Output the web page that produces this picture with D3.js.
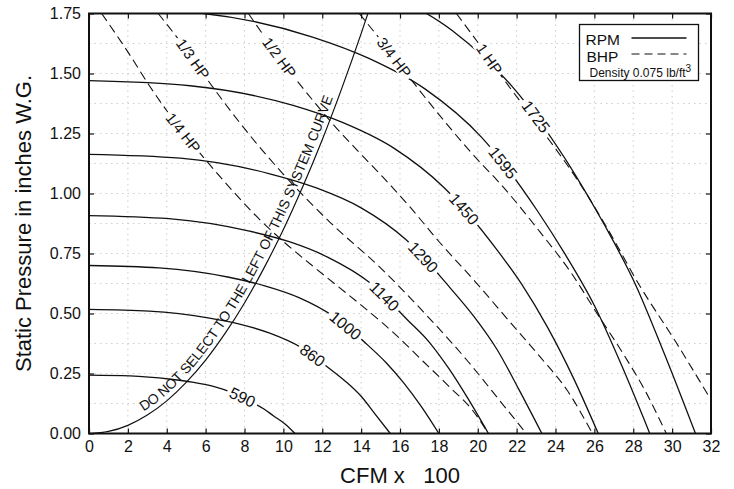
<!DOCTYPE html>
<html>
<head>
<meta charset="utf-8">
<script src="https://cdn.jsdelivr.net/npm/d3@7"></script>
<style>
  body { margin: 0; background: #fff; }
  svg { font-family: "Liberation Sans Narrow", "Arial Narrow", "Liberation Sans", Arial, sans-serif; }
  .axis text { font-size: 16px; fill: #111; }
  .axis line { stroke: #111; stroke-width: 1.2; }
  .axis .domain { display: none; }
</style>
</head>
<body>
<svg id="chart" width="734" height="489"></svg>
<script>
// fan curves: [CFM x 100, static pressure in. W.G.]
const rpm590  = [[0,0.243],[2.1,0.240],[4.2,0.226],[5.3,0.214],[6.4,0.196],[7.4,0.169],[8.5,0.126],[9.0,0.102],[9.5,0.073],[10.1,0.039],[10.6,0]];
const rpm860  = [[0,0.517],[3.1,0.510],[6.2,0.481],[7.8,0.455],[9.3,0.418],[10.9,0.359],[12.4,0.269],[13.2,0.217],[14.0,0.155],[14.7,0.083],[15.5,0]];
const rpm1000 = [[0,0.700],[3.6,0.690],[7.2,0.651],[9.0,0.616],[10.8,0.566],[12.6,0.487],[14.4,0.364],[15.3,0.294],[16.2,0.210],[17.1,0.112],[18.0,0]];
const rpm1140 = [[0,0.908],[4.1,0.895],[8.2,0.844],[10.3,0.799],[12.3,0.734],[14.4,0.631],[16.4,0.472],[17.5,0.381],[18.5,0.272],[19.5,0.145],[20.55,0]];
const rpm1290 = [[0,1.163],[4.7,1.147],[9.3,1.082],[11.7,1.023],[14.0,0.940],[16.3,0.808],[18.6,0.605],[19.8,0.488],[21.0,0.349],[22.1,0.186],[23.3,0]];
const rpm1450 = [[0,1.470],[5.2,1.449],[10.5,1.367],[13.1,1.294],[15.7,1.188],[18.3,1.022],[21.0,0.764],[22.3,0.617],[23.6,0.441],[24.9,0.235],[26.2,0]];
const rpm1595 = [[0,1.776],[5.8,1.751],[11.5,1.652],[14.4,1.563],[17.3,1.435],[20.2,1.234],[23.1,0.924],[24.5,0.746],[26.0,0.533],[27.4,0.284],[28.85,0]];
const rpm1725 = [[12.5,1.932],[15.6,1.828],[18.7,1.678],[21.8,1.443],[25.0,1.080],[26.5,0.872],[28.1,0.623],[29.6,0.332],[31.2,0]];

// brake horsepower lines
const bhp14 = [[0.65,1.75],[2.0,1.59],[3.1,1.45],[4.5,1.29],[6.0,1.14],[7.4,1.01],[8.8,0.89],[10.0,0.80],[11.4,0.705],[12.7,0.62],[14.3,0.515],[15.8,0.41],[17.2,0.30],[18.6,0.19],[19.7,0.10],[20.55,0]];
const bhp13 = [[3.56,1.75],[5.0,1.6],[6.4,1.44],[8.3,1.24],[10.0,1.08],[12.4,0.88],[15.0,0.69],[17.4,0.49],[19.5,0.30],[21.2,0.13],[22.5,0]];
const bhp12 = [[8.2,1.75],[9.5,1.60],[10.7,1.47],[11.7,1.37],[12.65,1.28],[13.8,1.18],[15.1,1.07],[16.5,0.945],[18.0,0.80],[19.9,0.63],[21.6,0.47],[23.2,0.32],[24.6,0.18],[25.9,0]];
const bhp34 = [[13.9,1.75],[15.0,1.64],[16.0,1.535],[17.0,1.43],[18.4,1.29],[20.0,1.14],[21.0,1.055],[23.2,0.84],[24.8,0.67],[26.1,0.505],[27.5,0.33],[28.6,0.18],[29.7,0]];
const bhp1  = [[18.9,1.75],[20.0,1.63],[21.3,1.48],[22.5,1.35],[23.7,1.22],[25.1,1.06],[26.7,0.85],[28.3,0.62],[30.2,0.38],[32.0,0.14]];

const systemCurve = [[0,0],[1,0.0085],[2,0.034],[3,0.077],[4,0.136],[5,0.213],[6,0.306],[7,0.417],[8,0.544],[9,0.689],[10,0.85],[11,1.029],[12,1.224],[13,1.437],[14,1.666],[14.5,1.787]];

const rpmLabels = ["590","860","1000","1140","1290","1450","1595","1725"];
const rpmLabelAt = [7.9, 11.5, 13.2, 15.2, 17.2, 19.3, 21.3, 23.0]; // CFM where label sits
const bhpLabels = ["1/4 HP","1/3 HP","1/2 HP","3/4 HP","1 HP"];
const bhpLabelAt = [4.85, 5.35, 9.8, 15.7, 20.6];

const xTicks = [0,2,4,6,8,10,12,14,16,18,20,22,24,26,28,30,32];
const yTicks = [0,0.25,0.5,0.75,1.0,1.25,1.5,1.75];
const gridX = [2,4,6,8,10,12,14,16,18,20,22,24,26,28,30];
const gridY = [0.125,0.25,0.375,0.5,0.625,0.75,0.875,1.0,1.125,1.25,1.375,1.5,1.625];

const rpmData = [rpm590, rpm860, rpm1000, rpm1140, rpm1290, rpm1450, rpm1595, rpm1725];
const bhpData = [bhp14, bhp13, bhp12, bhp34, bhp1];

const margin = {top: 13.5, right: 23, bottom: 55.5, left: 89};
const width = 734 - margin.left - margin.right;
const height = 489 - margin.top - margin.bottom;

const svg = d3.select("#chart");
const chart = svg.append("g")
    .attr("transform", `translate(${margin.left},${margin.top})`);

const xScale = d3.scaleLinear().domain([0, 32]).range([0, width]);
const yScale = d3.scaleLinear().domain([0, 1.75]).range([height, 0]);

chart.append("clipPath").attr("id", "plot-clip")
  .append("rect").attr("width", width).attr("height", height);

// faint dotted grid
const grid = chart.append("g").attr("stroke", "#9a9a9a").attr("stroke-width", 0.8)
    .attr("stroke-dasharray", "1.5,4").attr("opacity", 0.6);
grid.selectAll(".gx").data(gridX).join("line")
    .attr("x1", d => xScale(d)).attr("x2", d => xScale(d))
    .attr("y1", 0).attr("y2", height);
grid.selectAll(".gy").data(gridY).join("line")
    .attr("y1", d => yScale(d)).attr("y2", d => yScale(d))
    .attr("x1", 0).attr("x2", width);

const line = d3.line()
    .x(d => xScale(d[0]))
    .y(d => yScale(d[1]))
    .curve(d3.curveMonotoneX);

const curves = chart.append("g").attr("clip-path", "url(#plot-clip)").attr("fill", "none");

const rpmPaths = curves.selectAll(".rpm").data(rpmData).join("path")
    .attr("class", "rpm")
    .attr("d", line)
    .attr("stroke", "#111").attr("stroke-width", 1.3);

const bhpPaths = curves.selectAll(".bhp").data(bhpData).join("path")
    .attr("class", "bhp")
    .attr("d", line)
    .attr("stroke", "#111").attr("stroke-width", 1.1)
    .attr("stroke-dasharray", "9,5");

const sysPath = curves.append("path")
    .attr("id", "syscurve")
    .attr("d", line(systemCurve))
    .attr("stroke", "#111").attr("stroke-width", 1.2);

// find length along a path where it reaches a given x (paths run left to right)
function lengthAtX(node, px) {
  let lo = 0, hi = node.getTotalLength();
  for (let i = 0; i < 40; i++) {
    const mid = (lo + hi) / 2;
    if (node.getPointAtLength(mid).x < px) lo = mid; else hi = mid;
  }
  return lo;
}

function placeLabel(node, cfm, text, size) {
  const L = lengthAtX(node, xScale(cfm));
  const p = node.getPointAtLength(L);
  const a = node.getPointAtLength(Math.max(0, L - 2));
  const b = node.getPointAtLength(L + 2);
  const angle = Math.atan2(b.y - a.y, b.x - a.x) * 180 / Math.PI;
  const g = chart.append("g").attr("transform", `translate(${p.x},${p.y}) rotate(${angle})`);
  const bg = g.append("rect").attr("fill", "#fff");
  const t = g.append("text")
      .attr("text-anchor", "middle")
      .attr("dy", "0.36em")
      .attr("font-size", size)
      .attr("fill", "#111")
      .text(text);
  const bb = t.node().getBBox();
  bg.attr("x", bb.x - 3).attr("y", -7).attr("width", bb.width + 6).attr("height", 14);
}

rpmPaths.each(function(d, i) { placeLabel(this, rpmLabelAt[i], rpmLabels[i], 16); });
bhpPaths.each(function(d, i) { placeLabel(this, bhpLabelAt[i], bhpLabels[i], 15); });

// text along the system curve, sitting on its upper-left side
const sysNode = sysPath.node();
const textStart = lengthAtX(sysNode, xScale(2.95));
const textEnd = lengthAtX(sysNode, xScale(12.8));
chart.append("text")
    .attr("font-size", 14)
    .attr("fill", "#111")
    .attr("dy", -5)
  .append("textPath")
    .attr("href", "#syscurve")
    .attr("startOffset", textStart)
    .attr("textLength", textEnd - textStart)
    .attr("lengthAdjust", "spacing")
    .text("DO NOT SELECT TO THE LEFT OF THIS SYSTEM CURVE");

// axes with inward ticks
chart.append("g").attr("class", "axis")
    .attr("transform", `translate(0,${height})`)
    .call(d3.axisBottom(xScale).tickValues(xTicks).tickSize(-5).tickSizeOuter(0).tickPadding(7));
chart.append("g").attr("class", "axis")
    .call(d3.axisLeft(yScale).tickValues(yTicks).tickFormat(d3.format(".2f")).tickSize(-5).tickSizeOuter(0).tickPadding(8));
chart.append("g").attr("class", "axis")
    .call(d3.axisTop(xScale).tickValues(xTicks).tickSize(-5).tickSizeOuter(0).tickFormat(""));
chart.append("g").attr("class", "axis")
    .attr("transform", `translate(${width},0)`)
    .call(d3.axisRight(yScale).tickValues(yTicks).tickSize(-5).tickSizeOuter(0).tickFormat(""));

chart.append("rect")
    .attr("width", width).attr("height", height)
    .attr("fill", "none").attr("stroke", "#111").attr("stroke-width", 2);

// legend
const legend = svg.append("g").attr("transform", "translate(579.5,24.5)");
legend.append("rect").attr("width", 119).attr("height", 56)
    .attr("fill", "#fff").attr("stroke", "#111").attr("stroke-width", 1.3);
legend.append("text").attr("x", 6).attr("y", 20.5).attr("font-size", 15.5).attr("fill", "#111").text("RPM");
legend.append("line").attr("x1", 52).attr("x2", 107).attr("y1", 13.5).attr("y2", 13.5)
    .attr("stroke", "#111").attr("stroke-width", 1.3);
legend.append("text").attr("x", 7).attr("y", 37.5).attr("font-size", 15.5).attr("fill", "#111").text("BHP");
legend.append("line").attr("x1", 52).attr("x2", 107).attr("y1", 29.5).attr("y2", 29.5)
    .attr("stroke", "#111").attr("stroke-width", 1.1).attr("stroke-dasharray", "8,5");
const dens = legend.append("text").attr("x", 10).attr("y", 52).attr("font-size", 12).attr("fill", "#111");
dens.append("tspan").text("Density 0.075 lb/ft");
dens.append("tspan").attr("dy", -5).attr("font-size", 10).text("3");

// axis titles
svg.append("text")
    .attr("transform", `translate(31,${margin.top + height / 2}) rotate(-90)`)
    .attr("text-anchor", "middle")
    .attr("font-size", 22).attr("fill", "#111")
    .text("Static Pressure in inches W.G.");
svg.append("text")
    .attr("x", margin.left + width / 2).attr("y", 483)
    .attr("text-anchor", "middle")
    .attr("font-size", 22).attr("fill", "#111")
    .attr("xml:space", "preserve")
    .style("white-space", "pre")
    .text("CFM x   100");
</script>
</body>
</html>
